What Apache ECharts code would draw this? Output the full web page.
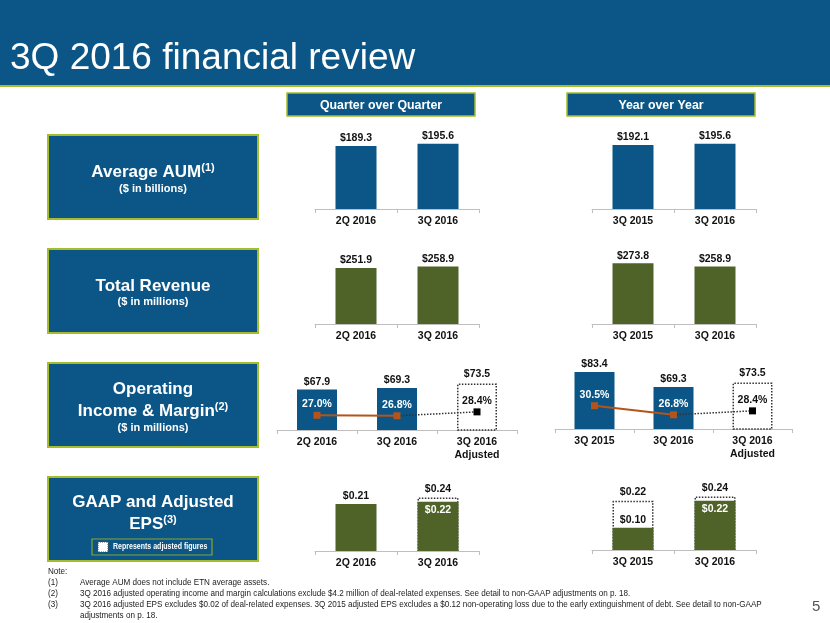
<!DOCTYPE html>
<html><head><meta charset="utf-8">
<script src="https://cdn.jsdelivr.net/npm/echarts@6/dist/echarts.min.js"></script>
<style>html,body{margin:0;padding:0;background:#fff}#c{width:830px;height:623px}</style>
</head><body><div id="c"></div>
<script>
// ---- data ----
const qoqCats = ['2Q 2016', '3Q 2016'];
const yoyCats = ['3Q 2015', '3Q 2016'];
const opCatsQoQ = ['2Q 2016', '3Q 2016', '3Q 2016\nAdjusted'];
const opCatsYoY = ['3Q 2015', '3Q 2016', '3Q 2016\nAdjusted'];
const aumQoQ = [189.3, 195.6];
const aumYoY = [192.1, 195.6];
const revQoQ = [251.9, 258.9];
const revYoY = [273.8, 258.9];
const opQoQ = [67.9, 69.3];
const opYoY = [83.4, 69.3];
const opAdjusted = 73.5;
const marginQoQ = [27.0, 26.8];
const marginYoY = [30.5, 26.8];
const marginAdjusted = 28.4;
const epsGaapQoQ = [0.21, 0.22];
const epsAdjQoQ = [null, 0.24];
const epsGaapYoY = [0.10, 0.22];
const epsAdjYoY = [0.22, 0.24];

// ---- styling ----
const NARROW = '"Liberation Sans Narrow","Arial Narrow","Liberation Sans",Arial,sans-serif';
const SANS = '"Liberation Sans",Arial,sans-serif';
const BLUE = '#0b5686';
const GREEN = '#4f6228';
const LIME = '#a6bd2b';
const BROWN = '#b4541a';

const chart = echarts.init(document.getElementById('c'), null, {renderer: 'canvas'});

const grids = [], xAxes = [], yAxes = [], series = [];

function addPanel(left, width, axisY, height, cats, ymin, ymax) {
  const gi = grids.length;
  grids.push({left: left, width: width, top: axisY - height, height: height});
  xAxes.push({
    type: 'category', gridIndex: gi, data: cats,
    axisLine: {lineStyle: {color: '#bfbfbf', width: 1}},
    axisTick: {show: true, length: 4, lineStyle: {color: '#bfbfbf'}},
    axisLabel: {color: '#111', fontFamily: NARROW, fontWeight: 'bold', fontSize: 10.5, margin: 6, lineHeight: 13}
  });
  const yi = yAxes.length;
  yAxes.push({type: 'value', gridIndex: gi, min: ymin, max: ymax, show: false, splitLine: {show: false}});
  return {gi: gi, yi: yi};
}

function valLabel(fmt, extra) {
  return Object.assign({show: true, position: 'top', distance: 2, color: '#111',
    fontFamily: NARROW, fontWeight: 'bold', fontSize: 10.5, formatter: fmt}, extra || {});
}
const money1 = p => '$' + Number(p.value).toFixed(1);
const money2 = p => '$' + Number(p.value).toFixed(2);

function simpleBars(p, data, color) {
  series.push({type: 'bar', xAxisIndex: p.gi, yAxisIndex: p.yi, data: data, barWidth: 41,
    itemStyle: {color: color}, label: valLabel(money1), silent: true});
}

// AUM
simpleBars(addPanel(315, 164, 209, 100, qoqCats, 0, 300), aumQoQ, BLUE);
simpleBars(addPanel(592, 164, 209, 100, yoyCats, 0, 300), aumYoY, BLUE);
// Revenue
simpleBars(addPanel(315, 164, 324, 100, qoqCats, 0, 450), revQoQ, GREEN);
simpleBars(addPanel(592, 164, 324, 100, yoyCats, 0, 450), revYoY, GREEN);

// Operating income & margin
function opPanel(left, width, axisY, cats, op, margin) {
  const p = addPanel(left, width, axisY, 80, cats, 30, 105);
  const y2 = yAxes.length;
  yAxes.push({type: 'value', gridIndex: p.gi, min: 21, max: 53.65, show: false, splitLine: {show: false}});
  series.push({type: 'bar', xAxisIndex: p.gi, yAxisIndex: p.yi, barWidth: 40, barGap: '-100%',
    data: op.concat(['-']), itemStyle: {color: BLUE}, label: valLabel(money1), z: 2});
  series.push({type: 'bar', xAxisIndex: p.gi, yAxisIndex: p.yi, barWidth: 40, barGap: '-100%',
    data: op.map(() => '-').concat([opAdjusted]),
    itemStyle: {color: '#fff', borderColor: '#333', borderWidth: 1.5, borderType: 'dotted'},
    label: valLabel(money1, {distance: 4}), z: 2});
  const adjLine = op.map(() => '-');
  adjLine[op.length - 1] = margin[margin.length - 1];
  adjLine.push({value: marginAdjusted, symbol: 'rect', symbolSize: 7,
    label: {show: true, color: '#111'}});
  series.push({type: 'line', xAxisIndex: p.gi, yAxisIndex: y2, data: adjLine, symbol: 'none',
    lineStyle: {color: '#333', width: 1.5, type: 'dotted'}, itemStyle: {color: '#000'},
    label: {show: false, position: 'top', distance: 2, fontFamily: NARROW, fontWeight: 'bold', fontSize: 10.5,
      formatter: q => Number(q.value).toFixed(1) + '%'}, z: 3});
  series.push({type: 'line', xAxisIndex: p.gi, yAxisIndex: y2, data: margin.concat(['-']),
    symbol: 'rect', symbolSize: 7, lineStyle: {color: BROWN, width: 2}, itemStyle: {color: BROWN},
    label: {show: true, position: 'top', distance: 2, color: '#fff', fontFamily: NARROW, fontWeight: 'bold', fontSize: 10.5,
      formatter: q => Number(q.value).toFixed(1) + '%'}, z: 4});
}
opPanel(277, 240, 430, opCatsQoQ, opQoQ, marginQoQ);
opPanel(555, 237, 429, opCatsYoY, opYoY, marginYoY);

// EPS
function epsPanel(left, axisY, cats, gaap, adj) {
  const p = addPanel(left, 164, axisY, 67, cats, 0, 0.3);
  series.push({type: 'bar', xAxisIndex: p.gi, yAxisIndex: p.yi, barWidth: 41, barGap: '-100%',
    data: adj.map(v => v == null ? '-' : v),
    itemStyle: {color: '#fff', borderColor: '#333', borderWidth: 1.5, borderType: 'dotted'},
    label: valLabel(money2, {distance: 3}), z: 2});
  series.push({type: 'bar', xAxisIndex: p.gi, yAxisIndex: p.yi, barWidth: 41, barGap: '-100%',
    data: gaap.map((v, i) => {
      const tight = adj[i] != null && adj[i] - v < 0.05;
      return tight ? {value: v, label: {position: 'insideTop', color: '#fff', distance: 3}} : v;
    }),
    itemStyle: {color: GREEN}, label: valLabel(money2), z: 3});
}
epsPanel(315, 551, qoqCats, epsGaapQoQ, epsAdjQoQ);
epsPanel(592, 550, yoyCats, epsGaapYoY, epsAdjYoY);

// ---- slide furniture ----
const g = [];
g.push({type: 'rect', shape: {x: 0, y: 0, width: 830, height: 85}, style: {fill: BLUE}, z: -1});
g.push({type: 'rect', shape: {x: 0, y: 85, width: 830, height: 2}, style: {fill: LIME}, z: -1});
g.push({type: 'text', x: 10, y: 59, style: {text: '3Q 2016 financial review', fill: '#fff',
  font: '37px ' + SANS, verticalAlign: 'middle'}});
function header(x, txt) {
  g.push({type: 'rect', shape: {x: x, y: 93, width: 188, height: 23},
    style: {fill: BLUE, stroke: LIME, lineWidth: 1.5}});
  g.push({type: 'text', x: x + 94, y: 105, style: {text: txt, fill: '#fff', font: 'bold 13px ' + NARROW,
    align: 'center', verticalAlign: 'middle'}, scaleX: 0.95});
}
header(287, 'Quarter over Quarter');
header(567, 'Year over Year');

const richT = {
  a: {fill: '#fff', fontSize: 17, fontWeight: 'bold', fontFamily: SANS},
  s: {fill: '#fff', fontSize: 11, fontWeight: 'bold', fontFamily: SANS, verticalAlign: 'top', padding: [0, 0, 8, 0]},
  b: {fill: '#fff', fontSize: 11, fontWeight: 'bold', fontFamily: SANS}
};
function box(y) {
  g.push({type: 'rect', shape: {x: 48, y: y, width: 210, height: 84},
    style: {fill: BLUE, stroke: LIME, lineWidth: 2}});
}
function line(y, txt) {
  g.push({type: 'text', x: 153, y: y, style: {text: txt, rich: richT, align: 'center', verticalAlign: 'middle'}});
}
box(135); line(172, '{a|Average AUM}{s|(1)}'); line(189, '{b|($ in billions)}');
box(249); line(286, '{a|Total Revenue}'); line(302, '{b|($ in millions)}');
box(363); line(389, '{a|Operating}'); line(411, '{a|Income & Margin}{s|(2)}'); line(428, '{b|($ in millions)}');
box(477); line(502, '{a|GAAP and Adjusted}'); line(524, '{a|EPS}{s|(3)}');
g.push({type: 'rect', shape: {x: 92, y: 539, width: 120, height: 16}, style: {fill: BLUE, stroke: '#8aa62e', lineWidth: 1.2}});
g.push({type: 'rect', shape: {x: 98, y: 542, width: 10, height: 10}, style: {fill: '#fff', stroke: '#555', lineWidth: 1, lineDash: [1, 1]}});
g.push({type: 'text', x: 113, y: 547, style: {text: 'Represents adjusted figures', fill: '#fff',
  font: 'bold 9px ' + NARROW, verticalAlign: 'middle'}, scaleX: 0.78});

const notes = [
  ['', 'Note:'],
  ['(1)', 'Average AUM does not include ETN average assets.'],
  ['(2)', '3Q 2016 adjusted operating income and margin calculations exclude $4.2 million of deal-related expenses. See detail to non-GAAP adjustments on p. 18.'],
  ['(3)', '3Q 2016 adjusted EPS excludes $0.02 of deal-related expenses. 3Q 2015 adjusted EPS excludes a $0.12 non-operating loss due to the early extinguishment of debt. See detail to non-GAAP'],
  ['', 'adjustments on p. 18.']
];
const NS = 0.90;
notes.forEach((n, i) => {
  const y = 572 + i * 11;
  if (i === 0) {
    g.push({type: 'text', x: 48, y: y, scaleX: NS, style: {text: n[1], fill: '#222', font: '9px ' + NARROW, verticalAlign: 'middle'}});
  } else {
    if (n[0]) g.push({type: 'text', x: 48, y: y, scaleX: NS, style: {text: n[0], fill: '#222', font: '9px ' + NARROW, verticalAlign: 'middle'}});
    g.push({type: 'text', x: 80, y: y, scaleX: NS, style: {text: n[1], fill: '#222', font: '9px ' + NARROW, verticalAlign: 'middle'}});
  }
});
g.push({type: 'text', x: 812, y: 607, style: {text: '5', fill: '#555', font: '15px ' + SANS, verticalAlign: 'middle'}});

chart.setOption({
  animation: false,
  backgroundColor: '#fff',
  grid: grids, xAxis: xAxes, yAxis: yAxes, series: series,
  graphic: {elements: g}
});
</script>
</body></html>
